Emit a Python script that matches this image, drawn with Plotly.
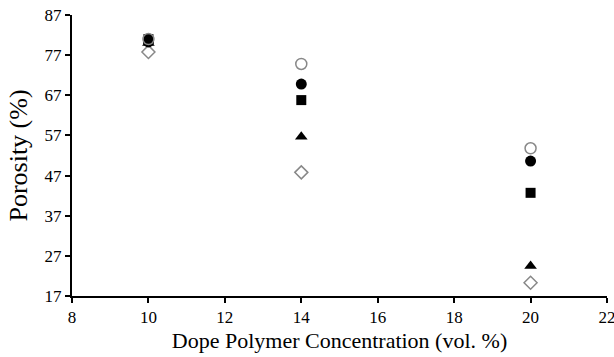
import plotly.graph_objects as go

conc = [10, 14, 20]
open_circle = [81, 74.8, 53.8]
filled_circle = [80.3, 69.8, 50.6]
filled_square = [81, 65.8, 42.7]
filled_triangle = [80, 56.7, 24.5]
open_diamond = [77.8, 47.8, 20.3]

fig = go.Figure()
series = [
    (open_diamond, dict(symbol="diamond-open", size=10, color="#888888", line=dict(width=1.5, color="#888888"))),
    (filled_triangle, dict(symbol="triangle-up", size=11, color="black")),
    (filled_square, dict(symbol="square", size=10, color="black")),
    (filled_circle, dict(symbol="circle", size=11, color="black")),
    (open_circle, dict(symbol="circle-open", size=11, color="#888888", line=dict(width=1.5, color="#888888"))),
]
for ys, mk in series:
    fig.add_trace(go.Scatter(x=conc, y=ys, mode="markers", marker=mk, showlegend=False))

fig.update_layout(
    width=614, height=357,
    margin=dict(l=72, r=7, t=15, b=61),
    paper_bgcolor="white", plot_bgcolor="white",
    font=dict(family="Liberation Serif", color="black", size=17),
)
fig.update_xaxes(range=[8, 22], dtick=2, tick0=8, showline=True, linecolor="black", linewidth=2,
                 ticks="outside", ticklen=5, tickwidth=2, tickcolor="black", showgrid=False, zeroline=False,
                 tickfont=dict(size=17), ticklabeloverflow="allow", automargin=False,
                 title=dict(text="Dope Polymer Concentration (vol. %)", font=dict(size=22), standoff=6))
fig.update_yaxes(range=[17, 87], dtick=10, tick0=17, showline=True, linecolor="black", linewidth=2,
                 ticks="outside", ticklen=5, tickwidth=2, tickcolor="black", showgrid=False, zeroline=False,
                 tickfont=dict(size=17), ticklabeloverflow="allow", automargin=False,
                 title=dict(text="Porosity (%)", font=dict(size=26), standoff=9))
fig.write_html("out.html")
